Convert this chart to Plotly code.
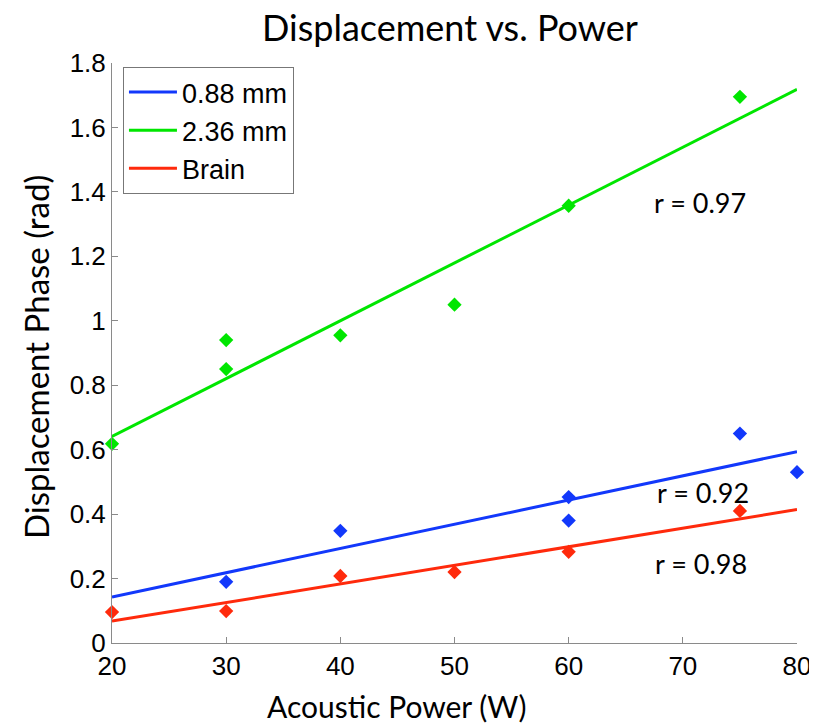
import plotly.graph_objects as go

# ---- data ----
power_088 = [30, 40, 60, 60, 75, 80]
phase_088 = [0.19, 0.348, 0.453, 0.38, 0.65, 0.53]

power_236 = [20, 30, 30, 40, 50, 60, 75]
phase_236 = [0.618, 0.94, 0.85, 0.955, 1.05, 1.357, 1.695]

power_brain = [20, 30, 40, 50, 60, 75]
phase_brain = [0.096, 0.099, 0.208, 0.22, 0.283, 0.41]

fit_x = [20, 80]
fit_088 = [0.143, 0.594]
fit_236 = [0.641, 1.718]
fit_brain = [0.068, 0.414]

series_names = ["0.88 mm", "2.36 mm", "Brain"]
r_labels = ["r = 0.97", "r = 0.92", "r = 0.98"]
r_label_x = [71.5, 71.8, 71.6]
r_label_y = [1.366, 0.466, 0.248]

x_ticks = [20, 30, 40, 50, 60, 70, 80]
y_ticks = [0, 0.2, 0.4, 0.6, 0.8, 1, 1.2, 1.4, 1.6, 1.8]
y_tick_text = ["0", "0.2", "0.4", "0.6", "0.8", "1", "1.2", "1.4", "1.6", "1.8"]

BLUE = "#1238fb"
GREEN = "#00e600"
RED = "#ff2a0c"

fig = go.Figure()

for name, fy, col in [(series_names[0], fit_088, BLUE),
                      (series_names[1], fit_236, GREEN),
                      (series_names[2], fit_brain, RED)]:
    fig.add_trace(go.Scatter(x=fit_x, y=fy, mode="lines", name=name,
                             line=dict(color=col, width=3), cliponaxis=False))

for px, py, col in [(power_088, phase_088, BLUE),
                    (power_236, phase_236, GREEN),
                    (power_brain, phase_brain, RED)]:
    fig.add_trace(go.Scatter(x=px, y=py, mode="markers", showlegend=False,
                             marker=dict(symbol="diamond", size=11, color=col,
                                         line=dict(width=0)),
                             cliponaxis=False))

for txt, xx, yy in zip(r_labels, r_label_x, r_label_y):
    fig.add_annotation(x=xx, y=yy, text=txt, showarrow=False,
                       font=dict(family="Lato", size=27, color="black"))

AX = "#8a8a8a"
fig.update_xaxes(range=[20, 80], tickvals=x_ticks, ticks="inside", ticklen=6,
                 tickcolor=AX, showline=True, linecolor=AX, linewidth=1,
                 showgrid=False, zeroline=False,
                 tickfont=dict(family="Liberation Sans", size=26, color="black"))
fig.update_yaxes(range=[0, 1.8], tickvals=y_ticks, ticktext=y_tick_text,
                 ticks="inside", ticklen=6, tickcolor=AX, showline=True,
                 linecolor=AX, linewidth=1, showgrid=False, zeroline=False,
                 tickfont=dict(family="Liberation Sans", size=26, color="black"))

# title and axis titles as annotations for placement control
fig.add_annotation(xref="paper", yref="paper", x=0.493, y=1.062,
                   text="Displacement vs. Power", showarrow=False,
                   xanchor="center", yanchor="middle",
                   font=dict(family="Lato", size=36, color="black"))
fig.add_annotation(xref="paper", yref="paper", x=0.416, y=-0.1086,
                   text="Acoustic Power (W)", showarrow=False, yanchor="middle",
                   font=dict(family="Lato", size=30, color="black"))
fig.add_annotation(xref="paper", yref="paper", x=-0.111, y=0.493,
                   text="Displacement Phase (rad)", textangle=-90,
                   showarrow=False, xanchor="center", yanchor="middle",
                   font=dict(family="Lato", size=33, color="black"))

# page body has an 8px default margin: figure is 8px smaller, margins shifted
fig.update_layout(
    width=809, height=716,
    margin=dict(l=104, r=20, t=55, b=81, autoexpand=False),
    paper_bgcolor="white", plot_bgcolor="white",
    legend=dict(x=0.016, y=0.993, xanchor="left", yanchor="top",
                bordercolor="#777777", borderwidth=1, bgcolor="white",
                font=dict(family="Liberation Sans", size=27, color="black"),
                tracegroupgap=0, itemwidth=48),
    showlegend=True,
)

fig.write_html("out.html")
